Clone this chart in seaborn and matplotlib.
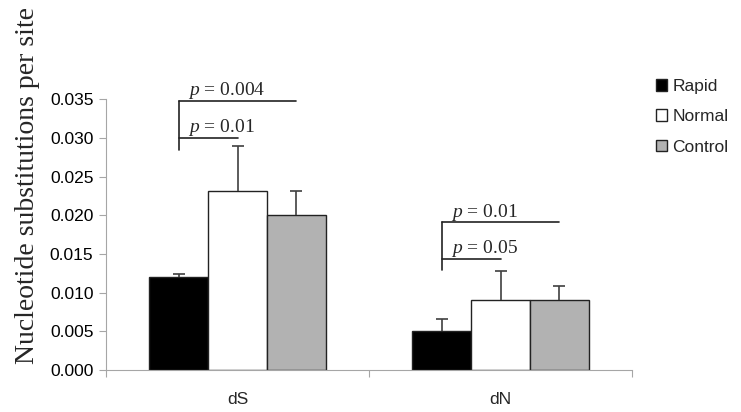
import matplotlib
matplotlib.use("Agg")
import matplotlib.pyplot as plt
import matplotlib.ticker as mtick
import numpy as np
import pandas as pd
import seaborn as sns

# ── Data ───────────────────────────────────────────────────────────────────
categories  = ["dS", "dN"]
groups      = ["Rapid", "Normal", "Control"]
rapid       = [0.0120, 0.0050]
normal      = [0.0231, 0.0090]
control     = [0.0200, 0.0090]
rapid_err   = [0.0004, 0.0016]
normal_err  = [0.0058, 0.0038]
control_err = [0.0031, 0.0018]
y_ticks     = [0.000, 0.005, 0.010, 0.015, 0.020, 0.025, 0.030, 0.035]

# p-value brackets: all start at the Rapid bar of a category
bracket_cat    = ["dS", "dS", "dN", "dN"]
bracket_to     = ["Control", "Normal", "Control", "Normal"]
bracket_y      = [0.0348, 0.0300, 0.0191, 0.0144]
bracket_p      = ["0.004", "0.01", "0.01", "0.05"]
bracket_bottom = {"dS": 0.0285, "dN": 0.0129}

COLORS = {"Rapid": "#000000", "Normal": "#ffffff", "Control": "#b2b2b2"}
GRID_C = "#a6a6a6"

sns.set_style("white")
plt.rcParams["font.family"] = ["Liberation Sans", "DejaVu Sans"]
plt.rcParams["mathtext.fontset"] = "custom"
plt.rcParams["mathtext.it"] = "Liberation Serif:italic"
plt.rcParams["mathtext.rm"] = "Liberation Serif"

df = pd.DataFrame({
    "category": categories * 3,
    "group": np.repeat(groups, len(categories)),
    "value": rapid + normal + control,
    "err": rapid_err + normal_err + control_err,
})

# ── Plot ───────────────────────────────────────────────────────────────────
fig = plt.figure(figsize=(7.41, 4.12), dpi=100)
ax = fig.add_axes([106 / 741, 1 - 370 / 412, (632 - 106) / 741, (370 - 99.3) / 412])

sns.barplot(data=df, x="category", y="value", hue="group", order=categories,
            hue_order=groups, palette=COLORS, edgecolor="#222222", linewidth=1.0,
            width=0.673, errorbar=None, legend=False, ax=ax)

bar_containers = list(ax.containers)
centers = {}
for g, cont in zip(groups, bar_containers):
    for c, patch in zip(categories, cont.patches):
        centers[(g, c)] = patch.get_x() + patch.get_width() / 2

# upper-only error bars (hide the lower caps)
for g, cont in zip(groups, bar_containers):
    sub = df[df["group"] == g].set_index("category").loc[categories]
    xs = [centers[(g, c)] for c in categories]
    eb = ax.errorbar(xs, sub["value"], yerr=[np.zeros(len(xs)), sub["err"]],
                     fmt="none", ecolor="#404040", elinewidth=1.2, capsize=4,
                     capthick=1.2, zorder=3)
    eb[1][0].set_visible(False)

# brackets
for cat in categories:
    x0 = centers[("Rapid", cat)]
    tops = [y for c, y in zip(bracket_cat, bracket_y) if c == cat]
    ax.plot([x0, x0], [bracket_bottom[cat], max(tops)], color="#222222", lw=1.2,
            clip_on=False)
for cat, to, y, p in zip(bracket_cat, bracket_to, bracket_y, bracket_p):
    x0 = centers[("Rapid", cat)]
    x1 = centers[(to, cat)]
    ax.plot([x0, x1], [y, y], color="#222222", lw=1.2, clip_on=False)
    ax.annotate(f"$p$ = {p}", xy=(x0, y), xytext=(7, 4), textcoords="offset points",
                ha="left", va="baseline", fontsize=14, family="Liberation Serif",
                annotation_clip=False)

# axes styling
ax.set_ylim(0, 0.035)
ax.set_xlim(-0.5, 1.5)
ax.set_yticks(y_ticks)
ax.yaxis.set_major_formatter(mtick.FormatStrFormatter("%.3f"))
ax.tick_params(axis="y", labelsize=12.5, length=5, width=0.8, color=GRID_C,
               direction="out", left=True, pad=4, labelcolor="#000000")
ax.set_xticks([-0.5, 0.5, 1.5])
ax.set_xticklabels([])
ax.set_xticks([0, 1], minor=True)
ax.set_xticklabels(categories, minor=True)
ax.tick_params(axis="x", which="major", length=5, width=0.8, color=GRID_C,
               direction="out", bottom=True)
ax.tick_params(axis="x", which="minor", length=0, labelsize=12.5, pad=15.5)
for side in ["top", "right"]:
    ax.spines[side].set_visible(False)
for side in ["left", "bottom"]:
    ax.spines[side].set_color(GRID_C)
    ax.spines[side].set_linewidth(0.8)
ax.set_xlabel("")
ax.set_ylabel("")

fig.text(28 / 741, 1 - 186 / 412, "Nucleotide substitutions per site",
         rotation=90, ha="center", va="center", fontsize=20,
         family="Liberation Serif")

handles = [cont.patches[0] for cont in bar_containers]
ax.legend(handles, groups, loc="upper left", bbox_to_anchor=(656 / 741, 1 - 79 / 412),
          bbox_transform=fig.transFigure, frameon=False, fontsize=12.5,
          handlelength=0.65, handleheight=0.65, handletextpad=0.3, labelspacing=0.88,
          borderpad=0, borderaxespad=0)

fig.savefig("out.png", dpi=100)
plt.close(fig)
